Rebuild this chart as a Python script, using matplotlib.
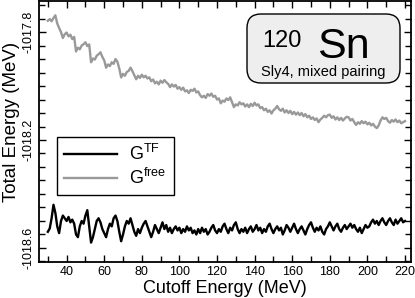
import matplotlib
matplotlib.use("Agg")
import matplotlib.pyplot as plt
from matplotlib.patches import FancyBboxPatch
from matplotlib.transforms import IdentityTransform
from matplotlib.ticker import FixedLocator, MultipleLocator

plt.rcParams['font.family'] = ['Liberation Sans', 'DejaVu Sans']
plt.rcParams['mathtext.fontset'] = 'custom'
plt.rcParams['mathtext.rm'] = 'Liberation Sans'
plt.rcParams['mathtext.it'] = 'Liberation Sans:italic'
plt.rcParams['axes.unicode_minus'] = False

cutoff = list(range(30, 221))

g_free = [
    -1017.758, -1017.752, -1017.760, -1017.748, -1017.738, -1017.768, -1017.785, -1017.800, -1017.822, -1017.808,
    -1017.802, -1017.816, -1017.810, -1017.826, -1017.818, -1017.872, -1017.858, -1017.864, -1017.850, -1017.845,
    -1017.838, -1017.852, -1017.846, -1017.912, -1017.898, -1017.902, -1017.888, -1017.882, -1017.875, -1017.892,
    -1017.905, -1017.932, -1017.920, -1017.926, -1017.912, -1017.918, -1017.900, -1017.910, -1017.935, -1017.968,
    -1017.955, -1017.962, -1017.948, -1017.944, -1017.932, -1017.945, -1017.960, -1017.975, -1017.962, -1017.970,
    -1017.958, -1017.968, -1017.962, -1017.972, -1017.968, -1017.982, -1017.976, -1017.990, -1017.984, -1017.994,
    -1017.980, -1017.988, -1017.978, -1017.986, -1017.992, -1018.004, -1017.994, -1018.002, -1017.996, -1018.010,
    -1018.004, -1018.014, -1018.006, -1018.020, -1018.016, -1018.026, -1018.014, -1018.018, -1018.010, -1018.024,
    -1018.020, -1018.034, -1018.042, -1018.036, -1018.044, -1018.030, -1018.036, -1018.028, -1018.040, -1018.036,
    -1018.050, -1018.046, -1018.064, -1018.054, -1018.058, -1018.046, -1018.052, -1018.042, -1018.060, -1018.078,
    -1018.068, -1018.072, -1018.060, -1018.068, -1018.064, -1018.076, -1018.068, -1018.078, -1018.066, -1018.074,
    -1018.062, -1018.072, -1018.068, -1018.082, -1018.078, -1018.090, -1018.084, -1018.096, -1018.090, -1018.102,
    -1018.090, -1018.084, -1018.074, -1018.086, -1018.092, -1018.084, -1018.098, -1018.090, -1018.100, -1018.092,
    -1018.104, -1018.096, -1018.106, -1018.098, -1018.108, -1018.100, -1018.112, -1018.104, -1018.116, -1018.110,
    -1018.122, -1018.116, -1018.126, -1018.120, -1018.134, -1018.124, -1018.118, -1018.110, -1018.116, -1018.108,
    -1018.106, -1018.118, -1018.112, -1018.124, -1018.116, -1018.126, -1018.118, -1018.128, -1018.120, -1018.114,
    -1018.116, -1018.128, -1018.122, -1018.134, -1018.144, -1018.134, -1018.140, -1018.130, -1018.138, -1018.132,
    -1018.142, -1018.136, -1018.146, -1018.140, -1018.150, -1018.156, -1018.146, -1018.128, -1018.116, -1018.122,
    -1018.118, -1018.130, -1018.136, -1018.126, -1018.132, -1018.124, -1018.134, -1018.128, -1018.138, -1018.134,
    -1018.130,
]

g_tf = [
    -1018.540, -1018.528, -1018.490, -1018.440, -1018.470, -1018.520, -1018.545, -1018.500, -1018.480, -1018.490,
    -1018.500, -1018.485, -1018.505, -1018.495, -1018.510, -1018.550, -1018.560, -1018.520, -1018.500, -1018.510,
    -1018.480, -1018.460, -1018.520, -1018.580, -1018.560, -1018.530, -1018.500, -1018.490, -1018.505, -1018.530,
    -1018.545, -1018.560, -1018.530, -1018.510, -1018.520, -1018.490, -1018.480, -1018.500, -1018.540, -1018.575,
    -1018.550, -1018.520, -1018.500, -1018.510, -1018.490, -1018.515, -1018.540, -1018.555, -1018.530, -1018.545,
    -1018.525, -1018.510, -1018.500, -1018.520, -1018.540, -1018.560, -1018.540, -1018.515, -1018.530, -1018.545,
    -1018.525, -1018.505, -1018.530, -1018.515, -1018.540, -1018.525, -1018.545, -1018.530, -1018.520, -1018.535,
    -1018.525, -1018.545, -1018.530, -1018.540, -1018.520, -1018.535, -1018.525, -1018.545, -1018.535, -1018.550,
    -1018.530, -1018.545, -1018.525, -1018.540, -1018.530, -1018.550, -1018.540, -1018.525, -1018.515, -1018.535,
    -1018.545, -1018.530, -1018.540, -1018.520, -1018.510, -1018.530, -1018.545, -1018.525, -1018.535, -1018.515,
    -1018.505, -1018.530, -1018.545, -1018.530, -1018.540, -1018.525, -1018.545, -1018.530, -1018.520, -1018.540,
    -1018.530, -1018.515, -1018.535, -1018.525, -1018.545, -1018.530, -1018.540, -1018.520, -1018.510, -1018.530,
    -1018.545, -1018.530, -1018.520, -1018.535, -1018.525, -1018.550, -1018.535, -1018.515, -1018.525, -1018.540,
    -1018.525, -1018.510, -1018.530, -1018.545, -1018.530, -1018.520, -1018.535, -1018.550, -1018.530, -1018.515,
    -1018.505, -1018.525, -1018.540, -1018.525, -1018.535, -1018.520, -1018.540, -1018.550, -1018.530, -1018.520,
    -1018.505, -1018.520, -1018.535, -1018.520, -1018.510, -1018.530, -1018.540, -1018.525, -1018.515, -1018.530,
    -1018.520, -1018.510, -1018.525, -1018.515, -1018.530, -1018.540, -1018.525, -1018.545, -1018.530, -1018.515,
    -1018.525, -1018.520, -1018.505, -1018.495, -1018.510, -1018.500, -1018.515, -1018.500, -1018.490, -1018.505,
    -1018.515, -1018.500, -1018.490, -1018.505, -1018.515, -1018.495, -1018.510, -1018.500, -1018.490, -1018.505,
    -1018.500,
]

x_ticks = [40, 60, 80, 100, 120, 140, 160, 180, 200, 220]
y_ticks = [-1017.8, -1018.2, -1018.6]
y_ticklabels = ["-1017.8", "-1018.2", "-1018.6"]

W, H = 415, 298
fig = plt.figure(figsize=(W / 100, H / 100), dpi=100)
ax = fig.add_axes([39 / W, 1 - 262 / H, (411 - 39) / W, (262 - 1) / H])

ax.plot(cutoff, g_tf, color='black', lw=1.7, label=r'$\mathrm{G}^{\mathrm{TF}}$')
ax.plot(cutoff, g_free, color='#999999', lw=1.7, label=r'$\mathrm{G}^{\mathrm{free}}$')

ax.set_xlim(25.3, 223.2)
ax.set_ylim(-1018.652, -1017.685)

ax.xaxis.set_major_locator(FixedLocator(x_ticks))
ax.xaxis.set_minor_locator(MultipleLocator(10))
ax.yaxis.set_major_locator(FixedLocator(y_ticks))
ax.yaxis.set_minor_locator(MultipleLocator(0.05))
ax.set_yticklabels(y_ticklabels, rotation=90, va='center')
ax.tick_params(which='both', direction='in', top=True, right=True, width=1.0, labelsize=9, pad=3)
ax.tick_params(which='major', length=5)
ax.tick_params(which='minor', length=4)
for s in ax.spines.values():
    s.set_linewidth(1.3)

ax.set_xlabel('Cutoff Energy (MeV)', fontsize=13, labelpad=1)
ax.set_ylabel('Total Energy (MeV)', fontsize=13.5)
ax.yaxis.set_label_coords(-0.05, 0.535)

leg = ax.legend(loc='upper left', bbox_to_anchor=((57 - 39) / (411 - 39), 1 - (137 - 1) / 261),
                fontsize=13, handlelength=2.9, handletextpad=0.7, borderaxespad=0,
                labelspacing=0.2, borderpad=0.4, fancybox=False, framealpha=1, edgecolor='black')
leg.get_frame().set_linewidth(1.0)

# title box (pixel coordinates, origin bottom-left)
ident = IdentityTransform()
box = FancyBboxPatch((247 + 14, H - 83 + 14), 400 - 247 - 28, 83 - 14 - 28,
                     boxstyle='round,pad=14,rounding_size=14', transform=ident,
                     facecolor='#eeeeee', edgecolor='black', lw=1.0, zorder=5)
fig.add_artist(box)
fig.text(302 / W, 1 - 47 / H, '120', fontsize=17, ha='right', va='baseline', zorder=6)
fig.text(317 / W, 1 - 58 / H, 'Sn', fontsize=31, ha='left', va='baseline', zorder=6)
fig.text(323 / W, 1 - 72 / H, 'Sly4, mixed pairing', fontsize=10.5, ha='center', va='center', zorder=6)

fig.savefig('out.png', dpi=100)
